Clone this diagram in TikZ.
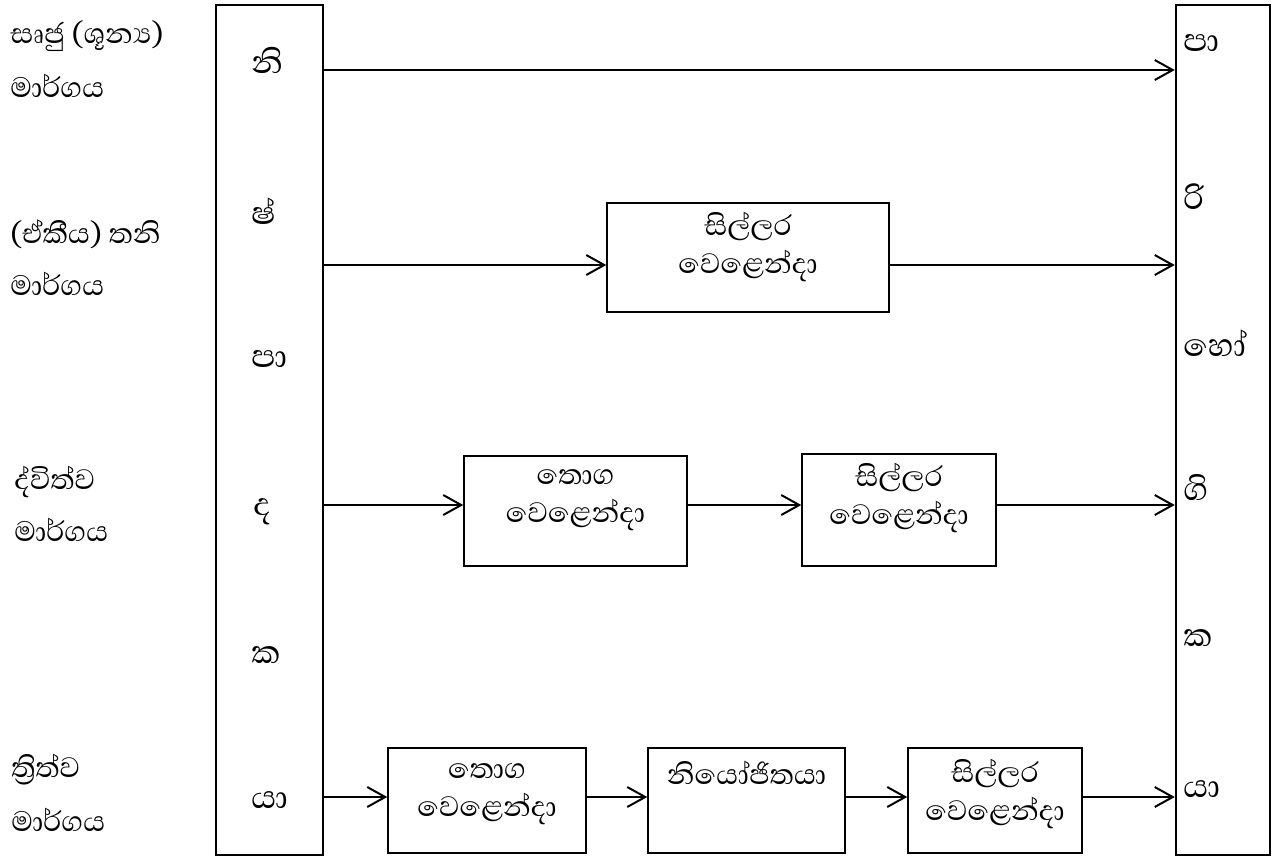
\documentclass[tikz,border=0pt]{standalone}
\usepackage{fontspec}
\newfontfamily\sinhf[Script=Sinhala]{Abhaya Libre}
\usetikzlibrary{arrows.meta}
\begin{document}
\begin{tikzpicture}[x=0.5pt,y=-0.5pt,
  big/.style={draw, line width=1.2pt, inner sep=0pt},
  box/.style={draw, line width=0.7pt, inner sep=0pt},
  txt/.style={font=\sinhf\fontsize{18}{22}\selectfont, inner sep=0pt},
  let/.style={font=\sinhf\fontsize{20.5}{24}\selectfont, inner sep=0pt, anchor=west},
  btxt/.style={font=\sinhf\fontsize{18}{19}\selectfont, inner sep=0pt, align=center},
  arr/.style={line width=1pt, -{Straight Barb[length=9pt,width=10pt,line width=1pt]}}]
\useasboundingbox (0,0) rectangle (1274,859);

% side boxes
\node[big, minimum width=53.5pt, minimum height=425pt] (P) at (269.5,430) {};
\node[big, minimum width=47pt, minimum height=425pt] (C) at (1223,430) {};

% letters producer
\node[let] (p1) at (251,60) {නි};
\node[let] (p2) at (251,211) {ෂ්};
\node[let] (p3) at (251,359) {පා};
\node[let] (p4) at (253,512) {ද};
\node[let] (p5) at (251,655) {ක};
\node[let] (p6) at (251,800) {යා};

% letters consumer
\node[let] (c1) at (1183,43) {පා};
\node[let] (c2) at (1183,197) {රි};
\node[let] (c3) at (1183,343) {හෝ};
\node[let] (c4) at (1183,487) {ගි};
\node[let] (c5) at (1183,638) {ක};
\node[let] (c6) at (1183,789) {යා};

% left labels
\node[txt, anchor=west] (l1a) at (10,36) {සෘජු (ශූන්‍ය)};
\node[txt, anchor=west] (l1b) at (10,86) {මාර්ගය};
\node[txt, anchor=west] (l2a) at (10,234) {(ඒකීය) තනි};
\node[txt, anchor=west] (l2b) at (10,284) {මාර්ගය};
\node[txt, anchor=west] (l3a) at (14,482) {ද්විත්ව};
\node[txt, anchor=west] (l3b) at (14,530) {මාර්ගය};
\node[txt, anchor=west] (l4a) at (11,770) {ත්‍රිත්ව};
\node[txt, anchor=west] (l4b) at (11,820) {මාර්ගය};

% intermediary boxes
\node[box, minimum width=141pt, minimum height=54.5pt] (r2a) at (748,257.5) {};
\node[box, minimum width=111.5pt, minimum height=55pt] (r3a) at (575.5,511) {};
\node[box, minimum width=97pt, minimum height=56pt] (r3b) at (899,510) {};
\node[box, minimum width=99pt, minimum height=52.5pt] (r4a) at (487,800.5) {};
\node[box, minimum width=98.5pt, minimum height=52.5pt] (r4b) at (746.5,800.5) {};
\node[box, minimum width=87pt, minimum height=52.5pt] (r4c) at (995,800.5) {};

\node[btxt] (t2a) at (748,247) {සිල්ලර\\වෙළෙන්දා};
\node[btxt] (t3a) at (575.5,500) {තොග\\වෙළෙන්දා};
\node[btxt] (t3b) at (899,498) {සිල්ලර\\වෙළෙන්දා};
\node[btxt] (t4a) at (487,794) {තොග\\වෙළෙන්දා};
\node[btxt] (t4b) at (746.5,773) {නියෝජිතයා};
\node[btxt] (t4c) at (995,794) {සිල්ලර\\වෙළෙන්දා};

% rows
\coordinate (y1) at (0,70);
\coordinate (y2) at (0,265);
\coordinate (y3) at (0,505);
\coordinate (y4) at (0,797);

\draw[arr] (P.east |- y1) -- (C.west |- y1);

\draw[arr] (P.east |- y2) -- (r2a.west |- y2);
\draw[arr] (r2a.east |- y2) -- (C.west |- y2);

\draw[arr] (P.east |- y3) -- (r3a.west |- y3);
\draw[arr] (r3a.east |- y3) -- (r3b.west |- y3);
\draw[arr] (r3b.east |- y3) -- (C.west |- y3);

\draw[arr] (P.east |- y4) -- (r4a.west |- y4);
\draw[arr] (r4a.east |- y4) -- (r4b.west |- y4);
\draw[arr] (r4b.east |- y4) -- (r4c.west |- y4);
\draw[arr] (r4c.east |- y4) -- (C.west |- y4);
\end{tikzpicture}
\end{document}
